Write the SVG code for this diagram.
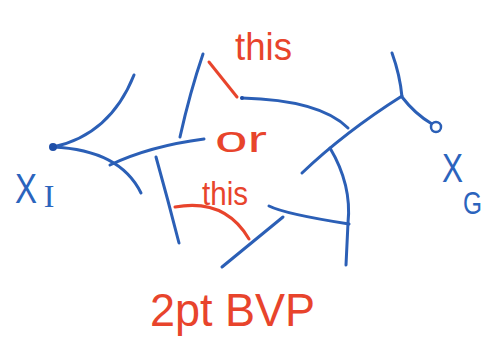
<svg xmlns="http://www.w3.org/2000/svg" width="490" height="346" viewBox="0 0 490 346">
  <style>
    .pen { fill: none; stroke: #2b5fb6; stroke-width: 3; stroke-linecap: round; stroke-linejoin: round; }
    .ink { fill: none; stroke: #e8442c; stroke-width: 3; stroke-linecap: round; }
    .red { fill: #e8442c; font-family: "Liberation Sans", Arial, sans-serif; }
    .blue { fill: #2b64bd; font-family: "Liberation Sans", Arial, sans-serif; }
  </style>
  <rect width="490" height="346" fill="#ffffff"/>

  <!-- branching paths between the two endpoints -->
  <g id="connectors">
    <path class="pen" d="M53,147 Q110,135 134,75"/>
    <path class="pen" d="M53,147 Q120,150 141,193"/>
    <path class="pen" d="M110,165 Q150,146 204,139"/>
    <path class="pen" d="M180,137 Q190,92 203,54"/>
    <path class="pen" d="M156,157 Q168,200 179,243"/>
    <path class="pen" d="M242,98 Q320,100 348,128"/>
    <path class="pen" d="M302,173 Q345,132 402,96"/>
    <path class="pen" d="M392,53 Q400,75 402,97 Q415,114 432,124"/>
    <path class="pen" d="M330,148 Q352,185 348,223 L346,265"/>
    <path class="pen" d="M269,206 Q285,214 349,224"/>
    <path class="pen" d="M222,267 L283,217"/>
    <circle cx="242" cy="98" r="2" fill="#1f4fa8"/>
  </g>

  <!-- start point -->
  <g id="xI">
    <circle cx="53" cy="147" r="4" fill="#1f4fa8"/>
    <text class="blue" x="15" y="203" font-size="42" textLength="22" lengthAdjust="spacingAndGlyphs">X</text>
    <text class="blue" x="49" y="207" font-size="32" text-anchor="middle" style="font-family:'Liberation Serif', serif">I</text>
  </g>

  <!-- end point -->
  <g id="xG">
    <circle cx="436" cy="127" r="5" fill="#ffffff" stroke="#2b5fb6" stroke-width="2.5"/>
    <text class="blue" x="442" y="182" font-size="40" textLength="21" lengthAdjust="spacingAndGlyphs">X</text>
    <text class="blue" x="463" y="214" font-size="32" textLength="19" lengthAdjust="spacingAndGlyphs">G</text>
  </g>

  <!-- red annotations -->
  <g id="annotations">
    <path class="ink" d="M209,62 L237,97"/>
    <path class="ink" d="M175,207 Q225,198 249,239"/>
    <text class="red" x="235" y="60" font-size="38" textLength="57" lengthAdjust="spacingAndGlyphs">this</text>
    <text class="red" x="215" y="152" font-size="36" textLength="52" lengthAdjust="spacingAndGlyphs">or</text>
    <text class="red" x="202" y="205" font-size="34" textLength="46" lengthAdjust="spacingAndGlyphs">this</text>
    <text class="red" x="150" y="326" font-size="47" textLength="165" lengthAdjust="spacingAndGlyphs">2pt BVP</text>
  </g>
</svg>
